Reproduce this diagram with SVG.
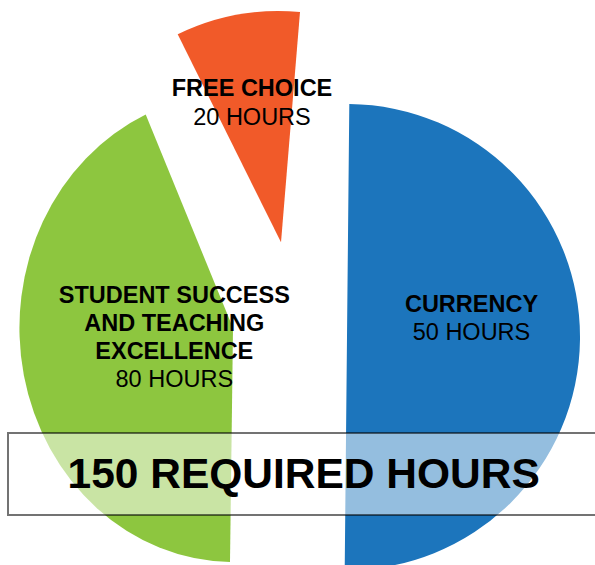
<svg xmlns="http://www.w3.org/2000/svg" width="595" height="565" viewBox="0 0 595 565">
<style>
.lbl{font-family:"Liberation Sans",Arial,Helvetica,sans-serif;font-size:23.5px;fill:#000;text-anchor:middle}
.b{font-weight:bold}
.big{font-family:"Liberation Sans",Arial,Helvetica,sans-serif;font-size:42.5px;font-weight:bold;fill:#000;text-anchor:middle}
</style>
<rect width="595" height="565" fill="#fff"/>
<g id="slice-currency">
<path d="M347,337 L349.3,104 A233,233 0 1 1 344.7,570 Z" fill="#1C75BC"/>
</g>
<g id="slice-student-success">
<path d="M233,328 L145.7,114.6 A214,234 0 0 0 230,562 Z" fill="#8DC63F"/>
</g>
<g id="slice-free-choice">
<path d="M281,242.3 L177.7,34.3 A231.5,231.5 0 0 1 300,12 Z" fill="#F15A29"/>
</g>
<g id="labels">
<text class="lbl b" x="252" y="96">FREE CHOICE</text>
<text class="lbl" x="252" y="125">20 HOURS</text>
<text class="lbl b" x="174.3" y="302.7">STUDENT SUCCESS</text>
<text class="lbl b" x="174.3" y="330.8">AND TEACHING</text>
<text class="lbl b" x="174.3" y="359">EXCELLENCE</text>
<text class="lbl" x="174.3" y="387.3">80 HOURS</text>
<text class="lbl b" x="471.5" y="311.7">CURRENCY</text>
<text class="lbl" x="471.5" y="340">50 HOURS</text>
</g>
<g id="total-box">
<rect x="8" y="433" width="600" height="82" fill="#fff" fill-opacity="0.53" stroke="#000" stroke-opacity="0.55" stroke-width="2"/>
<text class="big" x="303.7" y="488.3">150 REQUIRED HOURS</text>
</g>
</svg>
